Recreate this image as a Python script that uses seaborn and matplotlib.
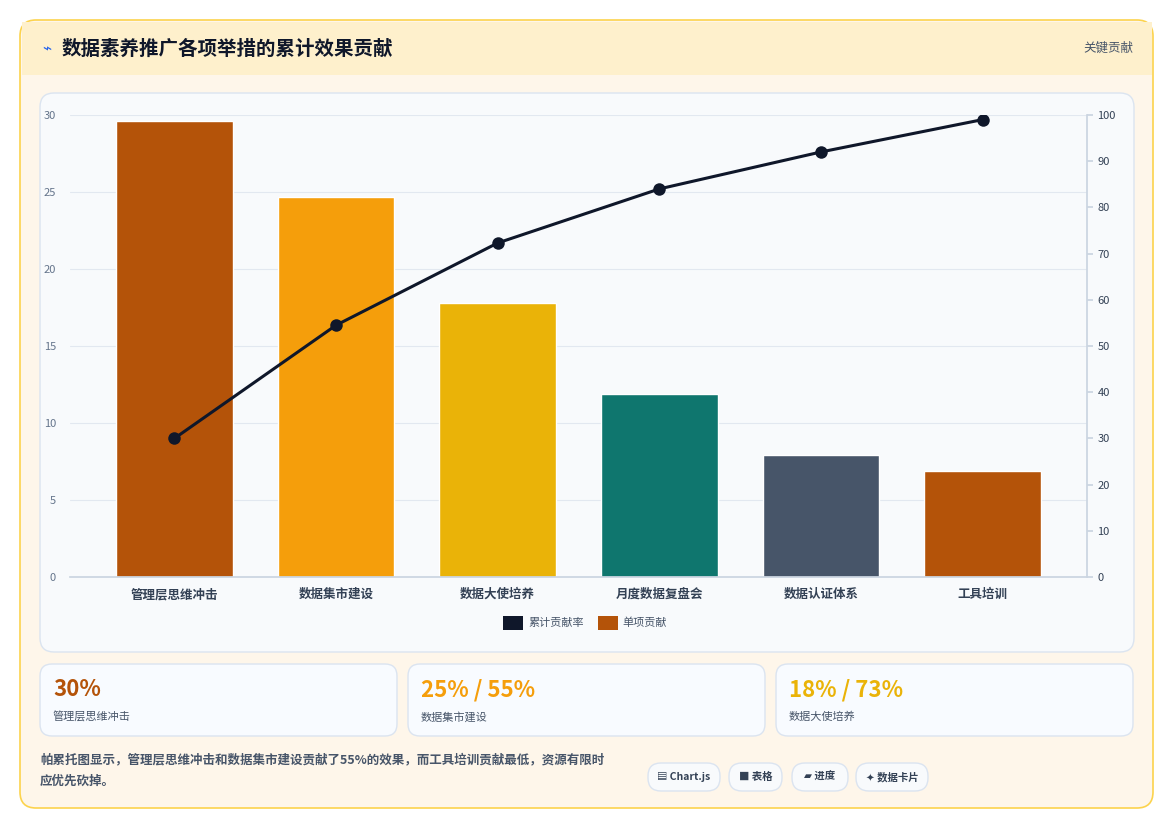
import matplotlib
matplotlib.use("Agg")
import matplotlib.pyplot as plt
import seaborn as sns
import pandas as pd
from matplotlib.patches import FancyBboxPatch, Rectangle

sns.set_theme(style="white")
plt.rcParams['font.family'] = ['Noto Sans CJK SC', 'DejaVu Sans']

categories = ["管理层思维冲击", "数据集市建设", "数据大使培养", "月度数据复盘会", "数据认证体系", "工具培训"]
single = [29.6, 24.7, 17.8, 11.9, 7.9, 6.9]
cumulative = [30, 54.5, 72.3, 84, 92, 99]
colors = ["#B45309", "#F59E0B", "#EAB308", "#0F766E", "#475569", "#B45309"]
left_ticks = [0, 5, 10, 15, 20, 25, 30]
right_ticks = [0, 10, 20, 30, 40, 50, 60, 70, 80, 90, 100]
cards = [("30%", "管理层思维冲击", "#B45309"), ("25% / 55%", "数据集市建设", "#F59E0B"), ("18% / 73%", "数据大使培养", "#EAB308")]
chips = ["▤ Chart.js", "■ 表格", "▰ 进度", "✦ 数据卡片"]

W, H = 1174, 831
fig = plt.figure(figsize=(W/100, H/100), dpi=100)
fig.patch.set_facecolor("white")

def box(x, y, w, h, fc, ec, r=12, lw=1, z=0):
    p = FancyBboxPatch((x/W, 1-(y+h)/H), w/W, h/H, boxstyle=f"round,pad=0,rounding_size={r/W}",
                       transform=fig.transFigure, fc=fc, ec=ec, lw=lw, zorder=z,
                       mutation_aspect=W/H)
    fig.patches.append(p)

box(20, 20, 1133, 788, "#FEF6EA", "#FCD34D", r=16, lw=1.2)
fig.patches.append(Rectangle((21.5/W, 1-75/H), 1130/W, 53/H, transform=fig.transFigure, fc="#FEF0CC", ec="none", zorder=0.5))
fig.text(42/W, 1-49/H, "⌁", color="#2563EB", fontsize=11, va="center", family=["DejaVu Sans"])
fig.text(62/W, 1-49/H, "数据素养推广各项举措的累计效果贡献", fontsize=14, weight="bold", color="#0F172A", va="center")
fig.text(1133/W, 1-48/H, "关键贡献", fontsize=9, color="#475569", va="center", ha="right")
box(40, 93, 1094, 559, "#F8FAFC", "#DBE4F0", r=14, z=0.6)

ax = fig.add_axes([70/W, 1-577/H, (1087-70)/W, (577-115)/H])
ax.set_facecolor("none")
df = pd.DataFrame({"cat": categories, "val": single})
sns.barplot(data=df, x="cat", y="val", hue="cat", palette=colors, legend=False, ax=ax, width=0.72, saturation=1)
ax.set_ylim(0, 30)
ax.set_yticks(left_ticks)
ax.grid(axis="y", color="#E2E8F0", lw=0.8)
ax.set_axisbelow(True)
ax.set_xlabel(""); ax.set_ylabel("")
ax.tick_params(axis="y", labelsize=8, colors="#64748B", length=0, pad=10)
ax.tick_params(axis="x", labelsize=9, colors="#334155", length=0, pad=8)
for l in ax.get_xticklabels():
    l.set_fontweight("bold")
for s in ["top", "right", "left"]:
    ax.spines[s].set_visible(False)
ax.spines["bottom"].set_color("#CBD5E1")

ax2 = ax.twinx()
sns.lineplot(x=list(range(len(categories))), y=cumulative, ax=ax2, color="#0F172A", lw=2.2,
             marker="o", markersize=9, markeredgewidth=0)
ax2.set_ylim(0, 100)
ax2.set_yticks(right_ticks)
ax2.tick_params(axis="y", labelsize=8, colors="#334155", length=4, color="#CBD5E1")
for s in ["top", "left", "bottom"]:
    ax2.spines[s].set_visible(False)
ax2.spines["right"].set_color("#CBD5E1")
ax2.set_ylabel("")
ax.set_zorder(2)
ax2.set_zorder(3)

fig.patches.append(Rectangle((503/W, 1-630/H), 20/W, 14/H, transform=fig.transFigure, fc="#0F172A", ec="none", zorder=1))
fig.text(528/W, 1-623/H, "累计贡献率", fontsize=8, color="#475569", va="center")
fig.patches.append(Rectangle((598/W, 1-630/H), 20/W, 14/H, transform=fig.transFigure, fc="#B45309", ec="none", zorder=1))
fig.text(622/W, 1-623/H, "单项贡献", fontsize=8, color="#475569", va="center")

for i, (big, small, c) in enumerate(cards):
    x0 = 40 + i*368
    box(x0, 664, 357, 72, "#F8FBFF", "#DBE4F0", r=12)
    fig.text((x0+13)/W, 1-690/H, big, fontsize=16, weight="bold", color=c, va="center")
    fig.text((x0+13)/W, 1-717/H, small, fontsize=8, color="#475569", va="center")

fig.text(40/W, 1-760/H, "帕累托图显示，管理层思维冲击和数据集市建设贡献了55%的效果，而工具培训贡献最低，资源有限时", fontsize=9, weight="bold", color="#475569", va="center")
fig.text(40/W, 1-781/H, "应优先砍掉。", fontsize=9, weight="bold", color="#475569", va="center")
cx = [648, 729, 792, 856]
cw = [72, 53, 56, 72]
for x0, w, t in zip(cx, cw, chips):
    box(x0, 763, w, 28, "#F8FAFC", "#DBE4F0", r=13)
    fig.text((x0+w/2)/W, 1-777/H, t, fontsize=7.5, weight="bold", color="#334155", ha="center", va="center",
             family=["Noto Sans CJK SC", "DejaVu Sans"])

fig.savefig("out.png", dpi=100)
